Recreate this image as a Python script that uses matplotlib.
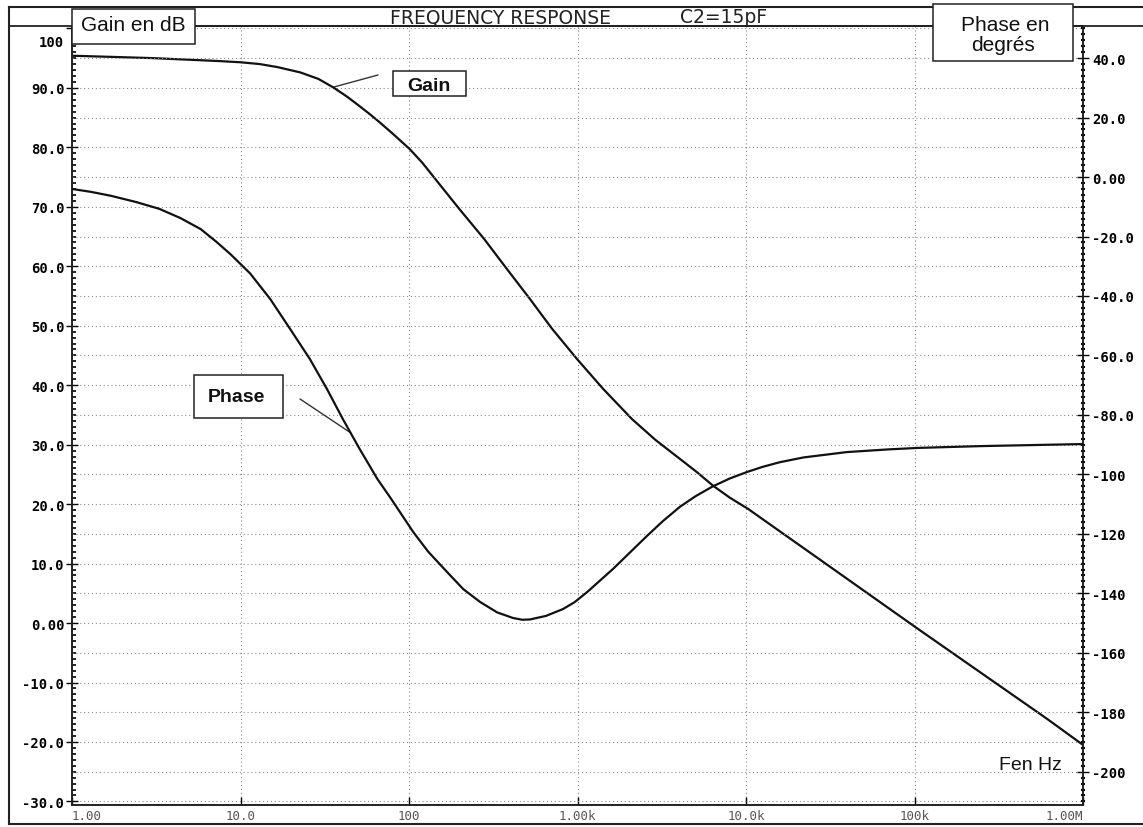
import matplotlib
matplotlib.use("Agg")
import matplotlib.pyplot as plt
from matplotlib.lines import Line2D
from matplotlib.patches import Rectangle
from matplotlib.ticker import MultipleLocator
from matplotlib.transforms import ScaledTranslation

W, H = 1143, 828

# gain curve (Hz, dB)
gain_freq = [1, 1.75, 3, 5.2, 7.5, 10, 13, 16.5, 22.6, 29, 35.4, 43, 51, 59, 67, 80, 101, 120,
             143, 198, 279, 382, 522, 706, 993, 1417, 2105, 2900, 4055, 5100, 6370, 8000,
             10280, 28640, 105000, 611000, 1000000]
gain_db = [95.4, 95.2, 95.0, 94.7, 94.5, 94.3, 94.0, 93.5, 92.6, 91.5, 90.1, 88.5, 86.9, 85.5,
           84.2, 82.3, 79.7, 77.4, 74.7, 69.7, 64.6, 59.5, 54.5, 49.5, 44.4, 39.4, 34.3, 30.8,
           27.6, 25.4, 23.1, 21.1, 19.2, 10.3, -1.0, -16.1, -20.5]

# phase curve (Hz, degrees)
phase_freq = [1, 1.3, 1.7, 2.4, 3.3, 4.4, 5.8, 7.2, 8.7, 11.4, 15, 19.7, 25.8, 32.6, 40.5, 51,
              65, 77, 106, 130, 168, 210, 264, 333, 414, 470, 522, 650, 820, 960, 1140, 1625,
              2585, 3200, 4055, 5000, 6370, 8000, 10140, 12500, 15900, 22000, 39700, 70000,
              105000, 245000, 1000000]
phase_deg = [-4.0, -5.0, -6.3, -8.4, -10.7, -13.8, -17.5, -21.8, -25.9, -32.4, -41.0, -51.1,
             -61.2, -71.3, -81.4, -91.5, -101.6, -107.6, -119.4, -126.0, -132.8, -138.6,
             -142.9, -146.4, -148.3, -148.9, -148.8, -147.6, -145.3, -143.0, -139.6, -131.8,
             -120.7, -115.8, -110.9, -107.4, -104.0, -101.4, -99.2, -97.5, -95.9, -94.3,
             -92.5, -91.6, -91.1, -90.5, -89.8]

x_ticks = [1, 10, 100, 1e3, 1e4, 1e5, 1e6]
x_labels = ["1.00", "10.0", "100", "1.00k", "10.0k", "100k", "1.00M"]
gain_ticks = [100, 90, 80, 70, 60, 50, 40, 30, 20, 10, 0, -10, -20, -30]
gain_labels = ["100", "90.0", "80.0", "70.0", "60.0", "50.0", "40.0", "30.0", "20.0",
               "10.0", "0.00", "-10.0", "-20.0", "-30.0"]
phase_ticks = [40, 20, 0, -20, -40, -60, -80, -100, -120, -140, -160, -180, -200]
phase_labels = ["40.0", "20.0", "0.00", "-20.0", "-40.0", "-60.0", "-80.0", "-100", "-120",
                "-140", "-160", "-180", "-200"]

GAIN_LIM = (-30.6, 100.4)


def gain_to_phase(g):
    # both scales share the same grid: phase = 2 * gain - 150
    return 2 * g - 150


def px(x, y):
    """pixel position (top-left origin) -> figure fraction"""
    return x / W, 1 - y / H


def fig_line(fig, x0, y0, x1, y1, lw=1.3):
    a, b = px(x0, y0)
    c, d = px(x1, y1)
    fig.add_artist(Line2D([a, c], [b, d], transform=fig.transFigure, color="#222", lw=lw))


def fig_box(fig, x0, y0, x1, y1):
    a, b = px(x0, y1)
    fig.add_artist(Rectangle((a, b), (x1 - x0) / W, (y1 - y0) / H, transform=fig.transFigure,
                             facecolor="white", edgecolor="#222", lw=1.1, zorder=5))


def fig_text(fig, x, y, s, **kw):
    a, b = px(x, y)
    fig.text(a, b, s, ha="center", va="baseline", zorder=6, **kw)


fig = plt.figure(figsize=(W / 100, H / 100), dpi=100)
ax = fig.add_axes([72 / W, 1 - 806 / H, (1083 - 72) / W, (806 - 27) / H])
ax.set_xscale("log")
ax.set_xlim(1, 1e6)
ax.set_ylim(*GAIN_LIM)

ax2 = ax.twinx()
ax2.set_ylim(gain_to_phase(GAIN_LIM[0]), gain_to_phase(GAIN_LIM[1]))

grid_kw = dict(color="#8a8a8a", lw=0.8, linestyle=(0, (1, 2.5)))
ax.grid(True, axis="both", which="major", **grid_kw)
ax2.grid(True, axis="y", which="major", **grid_kw)

ax.plot(gain_freq, gain_db, color="#111", lw=1.6, zorder=4)
ax2.plot(phase_freq, phase_deg, color="#111", lw=1.6, zorder=4)

# ticks
ax.set_xticks(x_ticks, x_labels, fontfamily="DejaVu Sans Mono", fontsize=9, color="#555")
ax.xaxis.set_minor_locator(plt.NullLocator())
ax.tick_params(axis="x", which="major", direction="in", length=6, width=1, pad=3)
xt = ax.get_xticklabels()
xt[0].set_ha("left")
xt[-1].set_ha("right")

ax.set_yticks(gain_ticks, gain_labels, fontfamily="DejaVu Sans Mono", fontsize=10,
              fontweight="bold")
ax.yaxis.set_minor_locator(MultipleLocator(1))
ax.tick_params(axis="y", which="major", direction="inout", length=9, width=1, pad=1)
ax.tick_params(axis="y", which="minor", direction="in", length=3, width=1.2)
top_lbl = ax.get_yticklabels()[0]
top_lbl.set_transform(top_lbl.get_transform() + ScaledTranslation(0, -12 / 100, fig.dpi_scale_trans))

ax2.set_yticks(phase_ticks, phase_labels, fontfamily="DejaVu Sans Mono", fontsize=10,
               fontweight="bold")
ax2.yaxis.set_minor_locator(MultipleLocator(2))
ax2.tick_params(axis="y", which="major", direction="inout", length=9, width=1, pad=2)
ax2.tick_params(axis="y", which="minor", direction="inout", length=3, width=1.5)

for a in (ax, ax2):
    for sp in a.spines.values():
        sp.set_color("#222")
        sp.set_linewidth(1.2)

# leader lines from the labels to the curves
ax.annotate("", xy=(35.4, 90.1), xytext=(378, H - 76), textcoords="figure pixels",
            arrowprops=dict(arrowstyle="-", lw=1, color="#333", shrinkA=0, shrinkB=0))
ax2.annotate("", xy=(45, -86), xytext=(300, H - 400), textcoords="figure pixels",
             arrowprops=dict(arrowstyle="-", lw=1, color="#333", shrinkA=0, shrinkB=0))

# page frame and header band
fig_line(fig, 9, 8, W, 8, lw=1.5)
fig_line(fig, 9, 27, W, 27, lw=1.3)
fig_line(fig, 9, 8, 9, 825, lw=1.5)
fig_line(fig, 9, 825, W, 825, lw=1.5)

title_font = dict(family="DejaVu Sans", fontsize=13.5, color="#222")
fig_text(fig, 501, 23, "FREQUENCY RESPONSE", **title_font)
fig_text(fig, 724, 23, "C2=15pF", **title_font)

label_font = dict(family="Liberation Sans", fontsize=15, color="#111")
fig_box(fig, 72, 10, 195, 45)
fig_text(fig, 133, 31, "Gain en dB", **label_font)
fig_box(fig, 933, 5, 1073, 62)
fig_text(fig, 1005, 31, "Phase en", **label_font)
fig_text(fig, 1003, 51, "degrés", **label_font)

bold_font = dict(family="Liberation Sans", fontsize=14, fontweight="bold", color="#111")
fig_box(fig, 393, 72, 466, 97)
fig_text(fig, 429, 91, "Gain", **bold_font)
fig_box(fig, 194, 376, 283, 419)
fig_text(fig, 236, 402, "Phase", **bold_font)

fig_text(fig, 1030, 770, "Fen Hz", family="Liberation Sans", fontsize=14, color="#111")

fig.savefig("out.png", dpi=100)
